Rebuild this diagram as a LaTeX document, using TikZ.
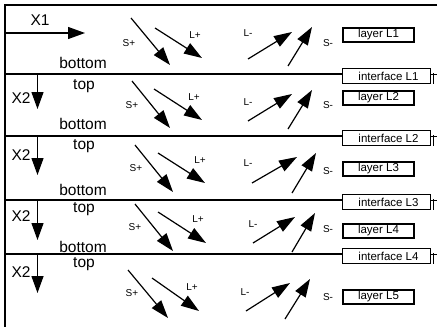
\documentclass[tikz,border=0pt]{standalone}
\usepackage{fontspec}
\setmainfont{Liberation Sans}
\usetikzlibrary{arrows.meta}
\begin{document}
\begin{tikzpicture}[x=1pt,y=-1pt,
  frame/.style={line width=1.5pt},
  vec/.style={line width=1.2pt,-{Triangle[length=18pt,width=12pt]}},
  xvec/.style={line width=1.3pt,-{Triangle[length=17pt,width=12pt]}},
  big/.style={font=\fontsize{15.5}{15.5}\selectfont, inner sep=0pt},
  small/.style={font=\fontsize{10}{10}\selectfont, inner sep=0pt},
  lbox/.style={draw, line width=1.1pt, minimum width=71pt, minimum height=14pt, inner sep=0pt, fill=white, font=\fontsize{11.5}{11.5}\selectfont},
  ibox/.style={draw, line width=1.1pt, minimum width=88pt, minimum height=15pt, inner sep=0pt, fill=white, font=\fontsize{11.5}{11.5}\selectfont},
]
\useasboundingbox (0,0) rectangle (441,327);

% frame
\coordinate (ftl) at (5,5);
\coordinate (ftr) at (437,5);
\coordinate (fbl) at (5,327);
\draw[frame] (ftr) -- (ftl) -- (fbl);

% interface lines and boxes
\foreach \i/\y in {1/74,2/136,3/200,4/254} {
  \coordinate (il\i) at (5,\y);
  \coordinate (ir\i) at (437,\y);
  \node[ibox] (if\i) at (386.5,\y+2) {\hspace{4pt}interface L\i};
  \draw[frame] (il\i) -- (il\i -| if\i.west);
  \draw[line width=1pt] (if\i.east |- il\i) -- (ir\i);
  \coordinate (tka\i) at (433,\y-1);
  \coordinate (tkb\i) at (433,\y+10);
  \draw[line width=1pt] (tka\i) -- (tkb\i);
}

% layer boxes
\foreach \i/\y in {1/35,2/98,3/169,4/231,5/297} {
  \node[lbox] (ly\i) at (378.5,\y) {layer L\i};
}

% X1
\node[big] (x1) at (40,20) {X1};
\coordinate (x1a) at (6,33);
\coordinate (x1b) at (85,33);
\draw[xvec] (x1a) -- (x1b);

% X2 arrows
\foreach \i/\y/\t/\xl in {2/74/109/98,3/136/175/155,4/200/240/216,5/254/293/272} {
  \node[big] (x2l\i) at (21,\xl) {X2};
  \coordinate (x2a\i) at (37.5,\y);
  \coordinate (x2b\i) at (37.5,\t);
  \draw[xvec] (x2a\i) -- (x2b\i);
}

% top / bottom
\foreach \i/\y in {1/63,2/124,3/190,4/247} {
  \node[big] (bot\i) at (83,\y) {bottom};
}
\foreach \i/\y in {2/86,3/146,4/209,5/264} {
  \node[big] (top\i) at (84,\y) {top};
}

% flux arrows
\foreach \n/\ax/\ay/\bx/\by in {
  sp1/131/18/170/65, lp1/155/28/202/58, lm1/248/59/292/32, sm1/288/66/312/27,
  sp2/132/81/170/128, lp2/154/89/202/120, lm2/248/121/292/94, sm2/288/129/312/90,
  sp3/135/145/173/192, lp3/158/153/205/183, lm3/252/183/297/157, sm3/292/193/316/153,
  sp4/135/204/173/251, lp4/158/212/206/243, lm4/253/243/295/217, sm4/292/252/315/213,
  sp5/128/270/168/318, lp5/152/278/199/311, lm5/246/311/290/283, sm5/285/319/310/279} {
  \coordinate (\n a) at (\ax,\ay);
  \coordinate (\n b) at (\bx,\by);
  \draw[vec] (\n a) -- (\n b);
}

% flux labels
\foreach \i/\spx/\spy/\lpx/\lpy/\lmx/\lmy/\smy in {
  1/129/43/195/35/248/33/43,
  2/132/105/194/97/248/102/105,
  3/136/168/200/160/248/163/171,
  4/135/227/198/219/253/224/229,
  5/132/293/192/287/245/292/297} {
  \node[small] (lsp\i) at (\spx,\spy) {S+};
  \node[small] (llp\i) at (\lpx,\lpy) {L+};
  \node[small] (llm\i) at (\lmx,\lmy) {L-};
  \node[small] (lsm\i) at (328,\smy) {S-};
}
\end{tikzpicture}
\end{document}
